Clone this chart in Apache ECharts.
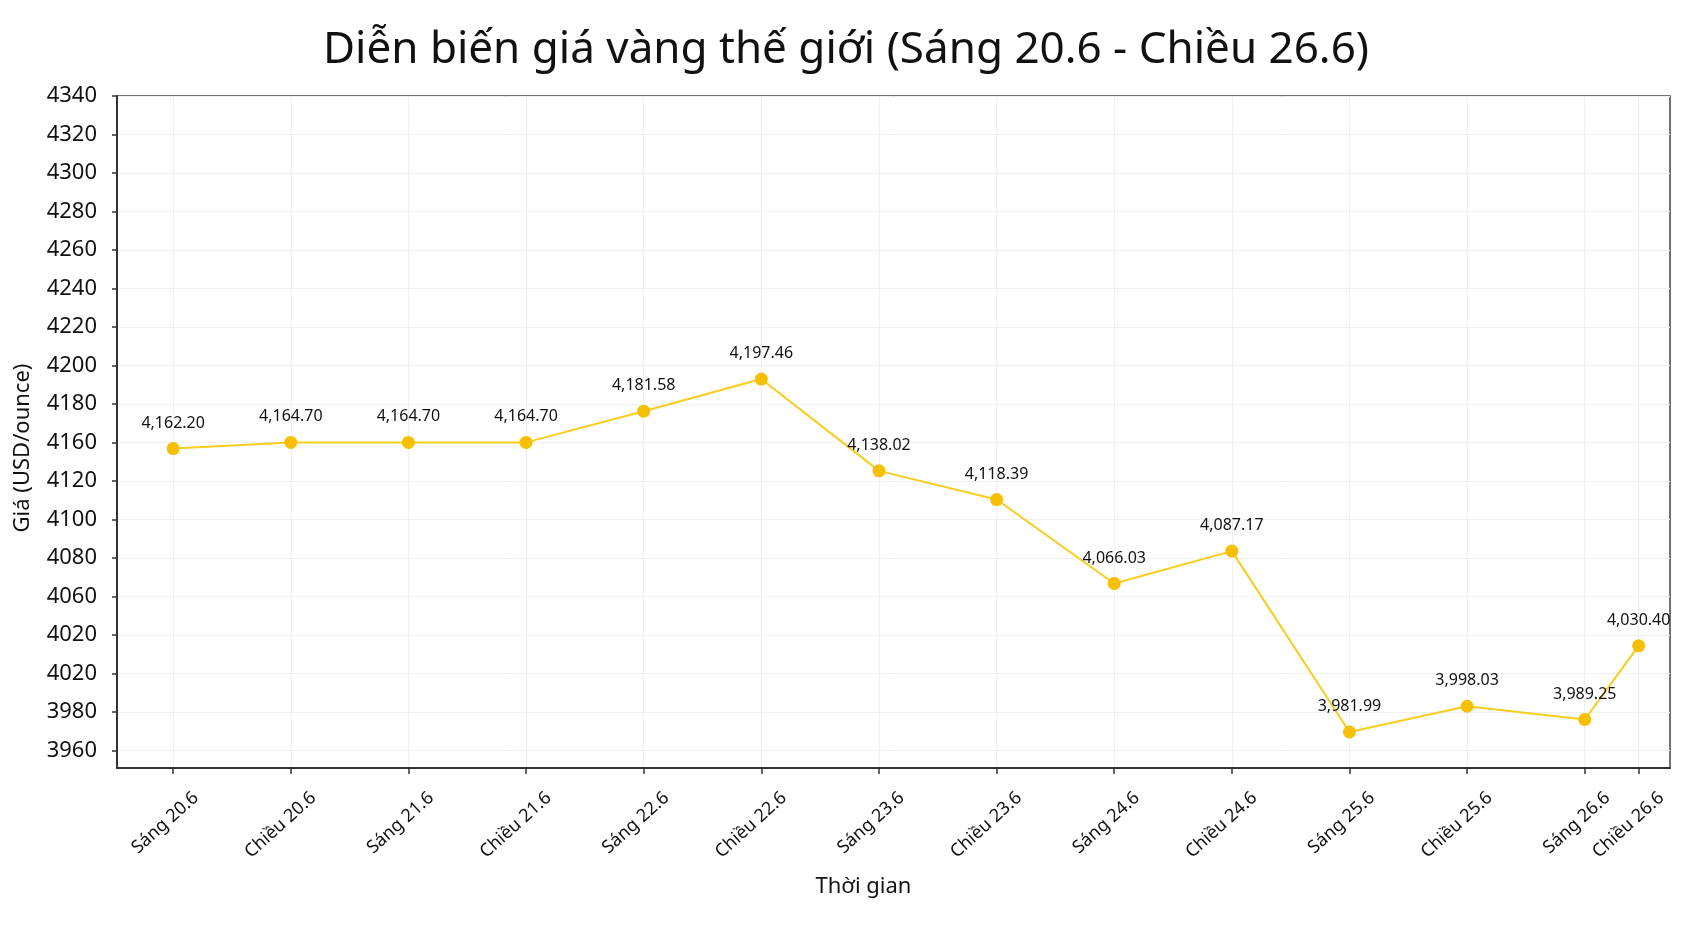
<!DOCTYPE html>
<html>
<head>
<meta charset="utf-8">
<script src="https://cdn.jsdelivr.net/npm/echarts@6/dist/echarts.min.js"></script>
<style>
  html, body { margin: 0; padding: 0; background: #ffffff; }
  #chart { width: 1692px; height: 930px; }
</style>
</head>
<body>
<div id="chart"></div>
<script>
// ---- Data ----
var categories = ['Sáng 20.6', 'Chiều 20.6', 'Sáng 21.6', 'Chiều 21.6', 'Sáng 22.6', 'Chiều 22.6',
                  'Sáng 23.6', 'Chiều 23.6', 'Sáng 24.6', 'Chiều 24.6', 'Sáng 25.6', 'Chiều 25.6',
                  'Sáng 26.6', 'Chiều 26.6'];
// time of each reading, hours after the first one (last reading comes sooner)
var timeHours = [0, 12, 24, 36, 48, 60, 72, 84, 96, 108, 120, 132, 144, 149.5];
// where each point sits on the drawn price axis
var plotValues = [4156.8, 4160.0, 4160.0, 4160.0, 4176.2, 4192.9, 4145.2, 4130.3,
                  4086.7, 4103.5, 4009.5, 4022.9, 4016.0, 4054.3];
// printed value labels
var valueLabels = ['4,162.20', '4,164.70', '4,164.70', '4,164.70', '4,181.58', '4,197.46',
                   '4,138.02', '4,118.39', '4,066.03', '4,087.17', '3,981.99', '3,998.03',
                   '3,989.25', '4,030.40'];
// y tick labels exactly as printed, bottom to top
var yTickLabels = ['3960', '3980', '4020', '4020', '4060', '4080', '4100', '4120', '4160',
                   '4180', '4200', '4220', '4240', '4260', '4280', '4300', '4320', '4340'];

var X_MIN = -5.73, X_MAX = 152.7;
var yBase = 4000, yStep = 20;
var yTicks = yTickLabels.map(function (_, i) { return yBase + yStep * i; });

var seriesData = timeHours.map(function (t, i) { return [t, plotValues[i]]; });

var FONT = '"Noto Sans", "DejaVu Sans", sans-serif';

var chart = echarts.init(document.getElementById('chart'), null, { renderer: 'canvas' });
chart.setOption({
  backgroundColor: '#ffffff',
  animation: false,
  title: {
    text: 'Diễn biến giá vàng thế giới (Sáng 20.6 - Chiều 26.6)',
    left: 'center',
    top: 23,
    textStyle: { fontFamily: FONT, fontSize: 44, fontWeight: 'normal', color: '#111111' }
  },
  grid: {
    left: 117, right: 22, top: 96, bottom: 162,
    show: true, borderColor: '#444444', borderWidth: 1.5, backgroundColor: 'transparent'
  },
  xAxis: {
    type: 'value',
    min: X_MIN,
    max: X_MAX,
    name: 'Thời gian',
    nameLocation: 'middle',
    nameGap: 108,
    nameMoveOverlap: false,
    nameTextStyle: { fontFamily: FONT, fontSize: 22, color: '#111111', padding: [0, 60, 0, 0] },
    axisLine: { show: true, onZero: false, lineStyle: { color: '#333333', width: 2 } },
    axisTick: { show: true, customValues: timeHours, length: 6, lineStyle: { color: '#333333', width: 1.5 } },
    axisLabel: {
      // a blank label at the axis end keeps the min/max-label overlap rule away from the real labels
      customValues: timeHours.concat([X_MAX]),
      rotate: 42,
      margin: 2,
      align: 'right',
      verticalAlign: 'top',
      lineHeight: 68,
      showMinLabel: true,
      showMaxLabel: false,
      hideOverlap: false,
      fontFamily: FONT,
      fontSize: 18,
      color: '#111111',
      formatter: function (v) {
        var i = timeHours.indexOf(v);
        return i >= 0 ? categories[i] : ' ';
      }
    },
    splitLine: { show: true, lineStyle: { color: '#f0f0f0', width: 1 } }
  },
  yAxis: {
    type: 'value',
    min: 3990.8,
    max: 4340,
    name: 'Giá (USD/ounce)',
    nameLocation: 'middle',
    nameGap: 83,
    nameTextStyle: { fontFamily: FONT, fontSize: 22, color: '#111111', padding: [0, 32, 0, 0] },
    axisLine: { show: true, onZero: false, lineStyle: { color: '#333333', width: 2 } },
    axisTick: { show: true, customValues: yTicks, length: 5, lineStyle: { color: '#333333', width: 1.5 } },
    axisLabel: {
      customValues: yTicks,
      margin: 20,
      showMinLabel: true,
      showMaxLabel: true,
      fontFamily: FONT,
      fontSize: 22,
      color: '#111111',
      formatter: function (v) {
        var i = Math.round((v - yBase) / yStep);
        return yTickLabels[i] !== undefined ? yTickLabels[i] : '';
      }
    },
    splitLine: { show: true, lineStyle: { color: '#f0f0f0', width: 1 } }
  },
  series: [{
    type: 'line',
    data: seriesData,
    symbol: 'circle',
    symbolSize: 13,
    lineStyle: { color: '#F8CD1C', width: 2 },
    itemStyle: { color: '#F6BF00' },
    label: {
      show: true,
      position: 'top',
      distance: 11,
      fontFamily: FONT,
      fontSize: 16,
      color: '#111111',
      formatter: function (p) { return valueLabels[p.dataIndex]; }
    },
    z: 3
  }]
});
</script>
</body>
</html>
